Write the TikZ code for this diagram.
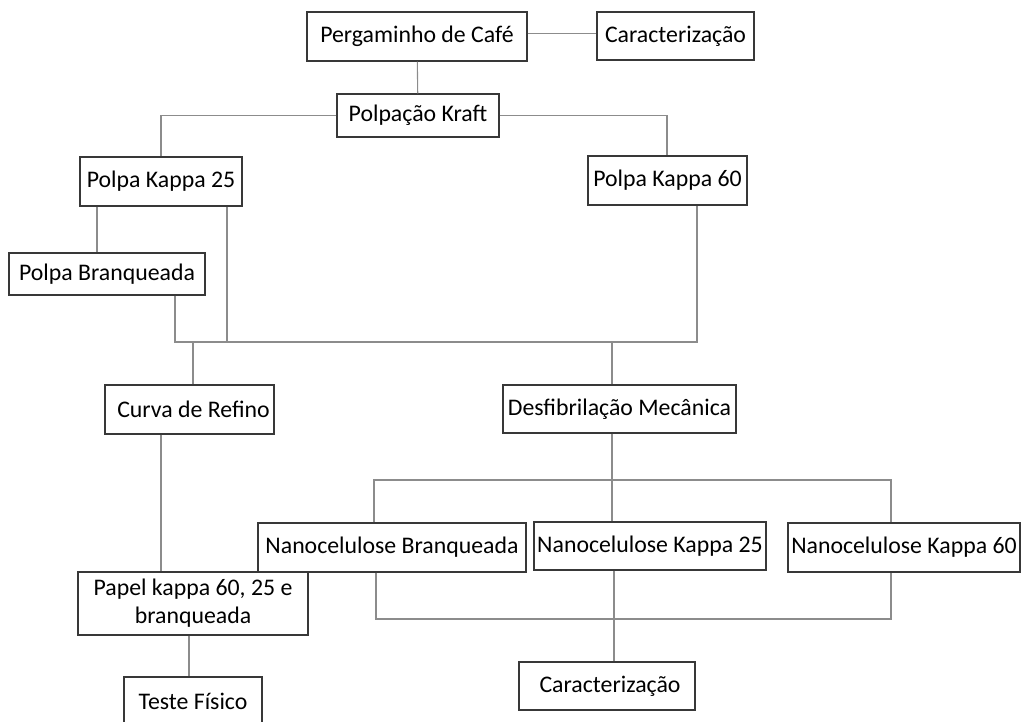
\documentclass[tikz,border=0pt]{standalone}
\usepackage{fontspec}
\setmainfont{Carlito}
\usepackage{tikz}
\usetikzlibrary{positioning}

\begin{document}
\begin{tikzpicture}[x=1pt, y=-1pt,
    box/.style = {draw=black!78, line width=1.2pt, rectangle, inner sep=0pt, align=center,
                  font=\fontsize{23.8}{28}\selectfont},
    link/.style = {draw=black!45, line width=1.1pt}]
    \useasboundingbox (0,0) rectangle (1035,722);

    \node[box, minimum width=220pt, minimum height=49pt] (perg) at (417,36.5) {Pergaminho de Café};
    \node[box, minimum width=157pt, minimum height=48pt] (carac1) at (675.5,36) {Caracterização};
    \node[box, minimum width=162pt, minimum height=43pt] (kraft) at (418,115.5) {Polpação Kraft};
    \node[box, minimum width=162pt, minimum height=49pt] (k25) at (161,181.5) {Polpa Kappa 25};
    \node[box, minimum width=159pt, minimum height=49pt] (k60) at (667.5,180.5) {Polpa Kappa 60};
    \node[box, minimum width=196pt, minimum height=42pt] (branq) at (107,274) {Polpa Branqueada};
    \node[box, minimum width=169pt, minimum height=49pt] (curva) at (189.5,409.5) {\hspace{8pt}Curva de Refino};
    \node[box, minimum width=233pt, minimum height=48pt] (desf) at (619.5,409) {Desfibrilação Mecânica};
    \node[box, minimum width=268pt, minimum height=49pt] (nbranq) at (392,547.5) {Nanocelulose Branqueada};
    \node[box, minimum width=232pt, minimum height=48pt] (n25) at (650,546) {Nanocelulose Kappa 25};
    \node[box, minimum width=232pt, minimum height=49pt] (n60) at (904,547.5) {Nanocelulose Kappa 60};
    \node[box, minimum width=230pt, minimum height=63pt] (papel) at (193,603.5) {Papel kappa 60, 25 e\\branqueada};
    \node[box, minimum width=138pt, minimum height=49pt] (teste) at (193,701.5) {Teste Físico};
    \node[box, minimum width=176pt, minimum height=48pt] (carac2) at (607,686) {\hspace{6pt}Caracterização};

    \coordinate (bus1) at (0,342);
    \coordinate (bus2) at (0,480);
    \coordinate (bus3) at (0,619);

    \draw[link] ([yshift=3pt]perg.east) -- ([yshift=3pt]perg.east -| carac1.west);
    \draw[link] (perg) -- (kraft);
    \draw[link] (kraft.west) -| (k25.north);
    \draw[link] (kraft.east) -| ([xshift=-0.5pt]k60.north);

    \draw[link] ([xshift=-64pt]k25.south) -- ([xshift=-64pt]k25.south |- branq.north);
    \draw[link] ([xshift=66pt]k25.south) -- ([xshift=66pt]k25.south |- bus1);
    \draw[link] ([xshift=68pt]branq.south) |- ([xshift=29.5pt]k60.south |- bus1) -- ([xshift=29.5pt]k60.south);
    \draw[link] ([xshift=3.5pt]curva.north) -- ([xshift=3.5pt]curva.north |- bus1);
    \draw[link] ([xshift=-7.5pt]desf.north) -- ([xshift=-7.5pt]desf.north |- bus1);

    \draw[link] ([xshift=-7.5pt]desf.south) -- ([xshift=-7.5pt]desf.south |- n25.north);
    \draw[link] ([xshift=-18pt]nbranq.north) |- ([xshift=-13pt]n60.north |- bus2) -- ([xshift=-13pt]n60.north);

    \draw[link] ([xshift=-16pt]nbranq.south) |- ([xshift=-13pt]n60.south |- bus3) -- ([xshift=-13pt]n60.south);
    \draw[link] ([xshift=-36pt]n25.south) -- ([xshift=-36pt]n25.south |- carac2.north);

    \draw[link] ([xshift=-28.5pt]curva.south) -- ([xshift=-28.5pt]curva.south |- papel.north);
    \draw[link] ([xshift=-4pt]papel.south) -- ([xshift=-4pt]papel.south |- teste.north);

    %\draw[link] (papel) -- (nbranq);
\end{tikzpicture}
\end{document}
